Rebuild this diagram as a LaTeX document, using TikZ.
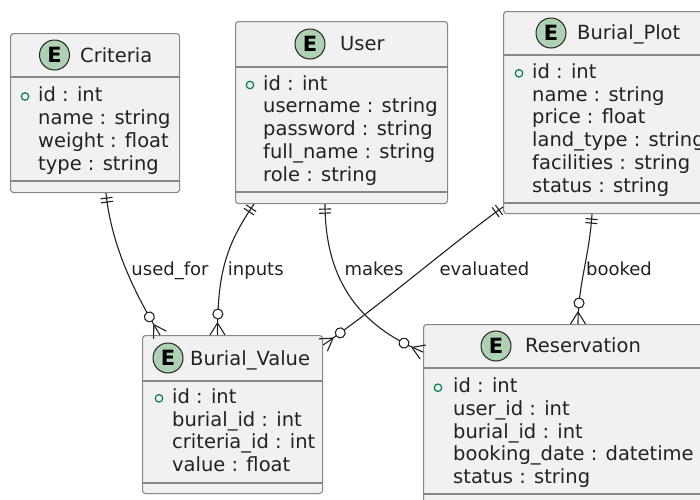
\documentclass[tikz,border=0pt]{standalone}
\usepackage{fontspec}
\setmainfont{DejaVu Sans}
\usetikzlibrary{decorations.markings}
\definecolor{boxfill}{HTML}{F1F1F1}
\definecolor{boxgray}{HTML}{888888}
\definecolor{ink}{HTML}{222222}
\definecolor{egreen}{HTML}{ADD1B2}
\definecolor{pkgreen}{HTML}{038048}
\newcommand{\entfont}{\fontsize{19.5}{23}\selectfont}
\newcommand{\lblfont}{\fontsize{18}{21}\selectfont}
\tikzset{
  entbox/.style={draw=boxgray, fill=boxfill, line width=1.1pt, rounded corners=3pt, inner sep=0pt, anchor=north west, rectangle},
  sepline/.style={draw=boxgray, line width=1.1pt},
  ecirc/.style={circle, draw=ink, fill=egreen, line width=1pt, minimum size=30pt, inner sep=0pt, font=\fontsize{21}{21}\selectfont\bfseries, text=black},
  etitle/.style={anchor=base west, inner sep=0pt, font=\entfont, text=ink},
  attr/.style={anchor=base west, inner sep=0pt, font=\entfont, text=ink},
  pk/.style={circle, draw=pkgreen, line width=1.2pt, minimum size=7.5pt, inner sep=0pt},
  rel/.style={draw=ink, line width=1.1pt},
  lbl/.style={anchor=base, inner sep=0pt, font=\lblfont, text=ink},
  onestart/.style={postaction={decorate, decoration={markings,
      mark=at position 5pt with {\draw[rel] (0pt,-6pt) -- (0pt,6pt);},
      mark=at position 9pt with {\draw[rel] (0pt,-6pt) -- (0pt,6pt);}}}},
  manyend/.style={postaction={decorate, decoration={markings,
      mark=at position -21pt with {\draw[rel, fill=white] (0pt,0pt) circle (5pt);},
      mark=at position 0.9999 with {\draw[rel] (-12pt,0pt) -- (0pt,7.5pt) (-12pt,0pt) -- (0pt,-7.5pt);}}}}
}
\begin{document}
\begin{tikzpicture}[x=1pt, y=-1pt]
\useasboundingbox (0,0) rectangle (700,499);
\clip (0,0) rectangle (700,499);
\fill[white] (0,0) rectangle (700,499);

% Criteria
\begin{scope}[shift={(10,33)}]
  \node[entbox, minimum width=169pt, minimum height=159pt] (crit) at (0,0) {};
  \draw[sepline] (0,44) -- (169,44);
  \draw[sepline] (0,148) -- (169,148);
  \node[ecirc] (critE) at (44.5,22) {E};
  \node[etitle] (critT) at (70,29) {Criteria};
  \node[pk] (critPK) at (15,63.5) {};
  \foreach \t [count=\i from 0] in {id : int, name : string, weight : float, type : string}
    \node[attr] (crit-a\i) at (28,68.5+23*\i) {\t};
\end{scope}

% User
\begin{scope}[shift={(235,21)}]
  \node[entbox, minimum width=212pt, minimum height=182pt] (user) at (0,0) {};
  \draw[sepline] (0,46) -- (212,46);
  \draw[sepline] (0,171) -- (212,171);
  \node[ecirc] (userE) at (75,23) {E};
  \node[etitle] (userT) at (105,29) {User};
  \node[pk] (userPK) at (15,64) {};
  \foreach \t [count=\i from 0] in {id : int, username : string, password : string, full\_name : string, role : string}
    \node[attr] (user-a\i) at (28,69+22.9*\i) {\t};
\end{scope}

% Burial_Plot
\begin{scope}[shift={(503,11)}]
  \node[entbox, minimum width=210pt, minimum height=202pt] (bplot) at (0,0) {};
  \draw[sepline] (0,44) -- (210,44);
  \draw[sepline] (0,192) -- (210,192);
  \node[ecirc] (bplotE) at (48,22) {E};
  \node[etitle] (bplotT) at (74,28.5) {Burial\_Plot};
  \node[pk] (bplotPK) at (16,62.3) {};
  \foreach \t [count=\i from 0] in {id : int, name : string, price : float, land\_type : string, facilities : string, status : string}
    \node[attr] (bplot-a\i) at (29,67.3+22.8*\i) {\t};
\end{scope}

% Burial_Value
\begin{scope}[shift={(142,335)}]
  \node[entbox, minimum width=180pt, minimum height=158pt] (bval) at (0,0) {};
  \draw[sepline] (0,46) -- (180,46);
  \draw[sepline] (0,148) -- (180,148);
  \node[ecirc] (bvalE) at (26,23) {E};
  \node[etitle] (bvalT) at (48,30) {Burial\_Value};
  \node[pk] (bvalPK) at (17,63.3) {};
  \foreach \t [count=\i from 0] in {id : int, burial\_id : int, criteria\_id : int, value : float}
    \node[attr] (bval-a\i) at (30,68.3+22.8*\i) {\t};
\end{scope}

% Reservation
\begin{scope}[shift={(423,324)}]
  \node[entbox, minimum width=279pt, minimum height=190pt] (res) at (0,0) {};
  \draw[sepline] (0,44) -- (279,44);
  \draw[sepline] (0,170) -- (279,170);
  \node[ecirc] (resE) at (73,22) {E};
  \node[etitle] (resT) at (102,28.7) {Reservation};
  \node[pk] (resPK) at (15,63.7) {};
  \foreach \t [count=\i from 0] in {id : int, user\_id : int, burial\_id : int, booking\_date : datetime, status : string}
    \node[attr] (res-a\i) at (30,68.7+22.7*\i) {\t};
\end{scope}

% Relations
\draw[rel, onestart, manyend] ([xshift=96pt]crit.south west) .. controls +(6,60) and +(-18,-30) .. ([xshift=18pt]bval.north west);
\draw[rel, onestart, manyend] ([xshift=19pt]user.south west) .. controls +(-29,42) and +(0,-60) .. ([xshift=75.5pt]bval.north west);
\draw[rel, onestart, manyend] ([xshift=90pt]user.south west) .. controls +(0,87) and +(-53,-22) .. ([yshift=-28pt]res.north west);
\draw[rel, onestart, manyend] ([yshift=-196pt]bplot.north west) .. controls +(-53,38) and +(58,-40) .. ([yshift=-10pt]bval.north east);
\draw[rel, onestart, manyend] ([xshift=89pt]bplot.south west) .. controls +(-3,45) and +(0,-40) .. ([xshift=155pt]res.north west);

% Labels
\node[lbl] (l1) at (170,275.5) {used\_for};
\node[lbl] (l2) at (255.8,275.5) {inputs};
\node[lbl] (l3) at (374,275.5) {makes};
\node[lbl] (l4) at (484.5,275.5) {evaluated};
\node[lbl] (l5) at (619,275.5) {booked};
\end{tikzpicture}
\end{document}
